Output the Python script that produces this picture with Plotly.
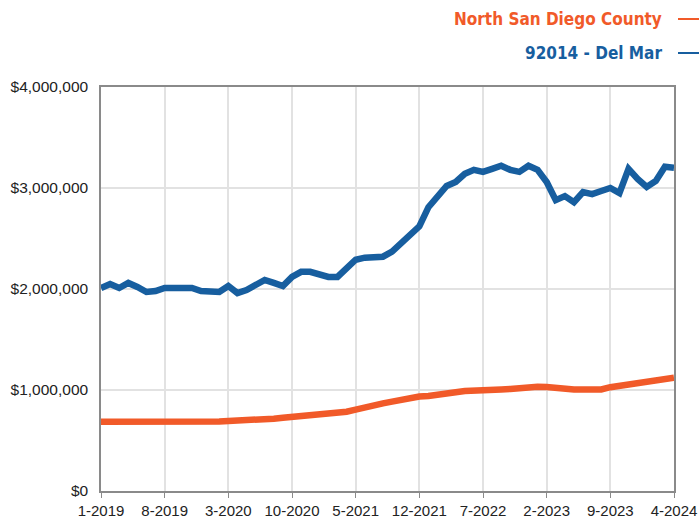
import plotly.graph_objects as go

# Monthly periods, Jan 2019 through Apr 2024
months = [f"{m}-{y}" for y in range(2019, 2025) for m in range(1, 13)][:64]
tick_labels = ["1-2019", "8-2019", "3-2020", "10-2020", "5-2021",
               "12-2021", "7-2022", "2-2023", "9-2023", "4-2024"]
y_ticks = [0, 1000000, 2000000, 3000000, 4000000]
y_tick_text = ["$0", "$1,000,000", "$2,000,000", "$3,000,000", "$4,000,000"]

# Median sales price, rolling 12-month (USD)
north_sd_county = [
    685000, 685000, 684000, 684000, 684000, 684000, 683000, 678000,
    676000, 678000, 682000, 685000, 687000, 688000, 694000, 697000,
    700000, 698000, 702000, 715000, 725000, 733000, 740000, 748000,
    752000, 758000, 770000, 785000, 805000, 830000, 850000, 868000,
    885000, 905000, 922000, 935000, 940000, 948000, 965000, 978000,
    990000, 998000, 1002000, 1005000, 1006000, 1010000, 1020000, 1032000,
    1032000, 1030000, 1018000, 1006000, 1005000, 1005000, 1005000, 1006000,
    1028000, 1042000, 1058000, 1062000, 1075000, 1092000, 1108000, 1122000,
]
del_mar_92014 = [
    2010000, 2050000, 2010000, 2060000, 2020000, 1970000, 1980000, 2010000,
    2010000, 2010000, 2010000, 1980000, 1970000, 1970000, 2030000, 1960000,
    1990000, 2040000, 2090000, 2060000, 2030000, 2120000, 2170000, 2170000,
    2140000, 2120000, 2120000, 2210000, 2290000, 2310000, 2310000, 2320000,
    2370000, 2460000, 2530000, 2620000, 2810000, 2910000, 3020000, 3060000,
    3140000, 3180000, 3160000, 3190000, 3220000, 3180000, 3160000, 3220000,
    3180000, 3060000, 2880000, 2920000, 2860000, 2960000, 2940000, 2970000,
    3000000, 2950000, 3190000, 3090000, 3010000, 3070000, 3210000, 3200000,
]

ORANGE = "#f15a29"
BLUE = "#175e9f"
FONT = "Liberation Sans"
LEGEND_FONT = "DejaVu Sans Condensed"

fig = go.Figure()
fig.add_trace(go.Scatter(x=months, y=north_sd_county, mode="lines",
                         line=dict(color=ORANGE, width=6.5),
                         name="North San Diego County"))
fig.add_trace(go.Scatter(x=months, y=del_mar_92014, mode="lines",
                         line=dict(color=BLUE, width=6.5),
                         name="92014 - Del Mar"))

fig.update_layout(
    width=699, height=520,
    margin=dict(l=101, r=25, t=87, b=29, autoexpand=False),
    paper_bgcolor="white", plot_bgcolor="white",
    showlegend=False,
    font=dict(family=FONT, size=15, color="#222222"),
)

fig.update_xaxes(
    type="category", range=[0, 63], automargin=False,
    tickmode="array", tickvals=tick_labels, ticktext=tick_labels,
    showgrid=True, gridcolor="#e2e2e2", gridwidth=1.5,
    showline=True, linecolor="#8a8a8a", linewidth=1.5, mirror=True,
    ticks="outside", ticklen=5, tickcolor="#8a8a8a",
    tickfont=dict(family=FONT, size=15, color="#222222"),
)
fig.update_yaxes(
    range=[0, 4000000], automargin=False,
    tickmode="array", tickvals=y_ticks, ticktext=y_tick_text,
    showgrid=True, gridcolor="#e2e2e2", gridwidth=1.5,
    showline=True, linecolor="#8a8a8a", linewidth=1.5, mirror=True,
    ticks="", zeroline=False, ticklabelstandoff=8,
    tickfont=dict(family=FONT, size=15.5, color="#222222"),
)

# Legend entries, right-aligned with a short swatch line after the label
legend_rows = [("North San Diego County", ORANGE, 19), ("92014 - Del Mar", BLUE, 53)]
for label, color, ypix in legend_rows:
    yp = 1 + (87 - ypix) / 404
    fig.add_annotation(
        xref="paper", yref="paper", x=(664 - 101) / 573, y=yp,
        xanchor="right", yanchor="middle", showarrow=False,
        text=f"<b>{label}</b>",
        font=dict(family=LEGEND_FONT, size=17, color=color),
    )
    fig.add_shape(
        type="line", xref="paper", yref="paper",
        x0=(678 - 101) / 573, x1=(699 - 101) / 573, y0=yp, y1=yp,
        line=dict(color=color, width=2),
    )

fig.write_html("out.html")
